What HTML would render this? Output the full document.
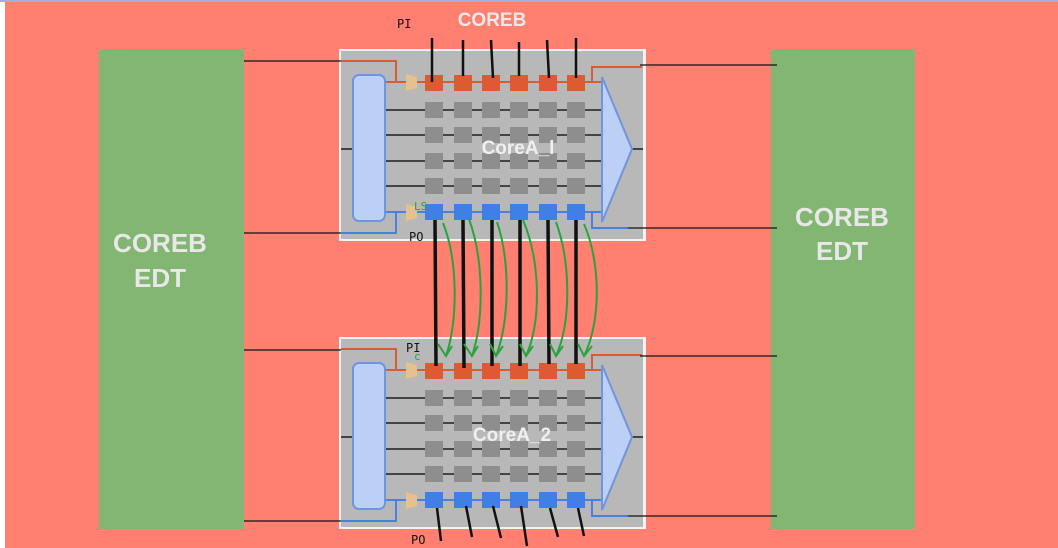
<!DOCTYPE html>
<html><head><meta charset="utf-8"><style>
html,body{margin:0;padding:0;background:#fff}
svg{display:block}
</style></head><body>
<svg width="1058" height="548" viewBox="0 0 1058 548" xmlns="http://www.w3.org/2000/svg" font-family="Liberation Sans, sans-serif">
<rect x="0" y="0" width="1058" height="548" fill="#fff"/>
<rect x="5" y="0" width="1053" height="548" fill="#ff7f70"/>
<rect x="0" y="0" width="1058" height="2" fill="#a9a9f0"/>
<rect x="99" y="49" width="145" height="480" fill="#84b673"/>
<rect x="771" y="49" width="144" height="480" fill="#84b673"/>
<text x="160" y="252" fill="#e8e8e8" font-size="26" font-weight="bold" text-anchor="middle">COREB</text>
<text x="160" y="287" fill="#e8e8e8" font-size="26" font-weight="bold" text-anchor="middle">EDT</text>
<text x="842" y="226" fill="#e8e8e8" font-size="26" font-weight="bold" text-anchor="middle">COREB</text>
<text x="842" y="260" fill="#e8e8e8" font-size="26" font-weight="bold" text-anchor="middle">EDT</text>
<text x="492" y="26" fill="#eaeaea" font-size="19" font-weight="bold" text-anchor="middle">COREB</text>
<defs>
<g id="core">
<rect x="339" y="49" width="307" height="192" fill="#f2f2f2"/>
<rect x="341" y="51" width="302" height="188" fill="#b8b8b8"/>
<line x1="341" y1="149" x2="353" y2="149" stroke="#444" stroke-width="2"/>
<line x1="632" y1="149" x2="643" y2="149" stroke="#444" stroke-width="2"/>
<g stroke="#444" stroke-width="2">
<line x1="385" y1="110" x2="602" y2="110"/><line x1="385" y1="135" x2="602" y2="135"/>
<line x1="385" y1="161" x2="602" y2="161"/><line x1="385" y1="186" x2="602" y2="186"/>
</g>
<g fill="#8e8e8e">
<rect x="425" y="102" width="18" height="16"/><rect x="454" y="102" width="18" height="16"/><rect x="482" y="102" width="18" height="16"/><rect x="510" y="102" width="18" height="16"/><rect x="539" y="102" width="18" height="16"/><rect x="567" y="102" width="18" height="16"/>
<rect x="425" y="127" width="18" height="16"/><rect x="454" y="127" width="18" height="16"/><rect x="482" y="127" width="18" height="16"/><rect x="510" y="127" width="18" height="16"/><rect x="539" y="127" width="18" height="16"/><rect x="567" y="127" width="18" height="16"/>
<rect x="425" y="153" width="18" height="16"/><rect x="454" y="153" width="18" height="16"/><rect x="482" y="153" width="18" height="16"/><rect x="510" y="153" width="18" height="16"/><rect x="539" y="153" width="18" height="16"/><rect x="567" y="153" width="18" height="16"/>
<rect x="425" y="178" width="18" height="16"/><rect x="454" y="178" width="18" height="16"/><rect x="482" y="178" width="18" height="16"/><rect x="510" y="178" width="18" height="16"/><rect x="539" y="178" width="18" height="16"/><rect x="567" y="178" width="18" height="16"/>
</g>
<polyline points="341,61 396,61 396,82 406,82" fill="none" stroke="#d95b35" stroke-width="2"/>
<line x1="385" y1="82" x2="602" y2="82" stroke="#d95b35" stroke-width="2"/>
<polyline points="592,82 592,67 642,67" fill="none" stroke="#d95b35" stroke-width="2"/>
<polyline points="341,233 396,233 396,212 406,212" fill="none" stroke="#4a7fe0" stroke-width="2"/>
<line x1="385" y1="212" x2="602" y2="212" stroke="#4a7fe0" stroke-width="2"/>
<polyline points="592,212 592,228 628,228" fill="none" stroke="#4a7fe0" stroke-width="2"/>
<g fill="#dd5a33">
<rect x="425" y="75" width="18" height="16"/><rect x="454" y="75" width="18" height="16"/><rect x="482" y="75" width="18" height="16"/><rect x="510" y="75" width="18" height="16"/><rect x="539" y="75" width="18" height="16"/><rect x="567" y="75" width="18" height="16"/>
</g>
<g fill="#3f7fe6">
<rect x="425" y="204" width="18" height="16"/><rect x="454" y="204" width="18" height="16"/><rect x="482" y="204" width="18" height="16"/><rect x="510" y="204" width="18" height="16"/><rect x="539" y="204" width="18" height="16"/><rect x="567" y="204" width="18" height="16"/>
</g>
<polygon points="406,74 417,77 417,88 406,91" fill="#e6c08f"/>
<polygon points="406,204 417,207 417,218 406,221" fill="#e6c08f"/>
<rect x="353" y="75" width="32" height="146" rx="6" fill="#bcd0f5" stroke="#6d95e0" stroke-width="2"/>
<polygon points="602,77 632,149 602,222" fill="#bcd0f5" stroke="#6d95e0" stroke-width="2"/>
</g>
</defs>
<use href="#core"/>
<use href="#core" transform="translate(0,288)"/>
<text x="518" y="154" fill="#f0f0f0" font-size="19" font-weight="bold" text-anchor="middle">CoreA_l</text>
<text x="512" y="441" fill="#f0f0f0" font-size="19" font-weight="bold" text-anchor="middle">CoreA_2</text>
<g stroke="#111" stroke-width="1.2">
<line x1="244" y1="61" x2="341" y2="61"/><line x1="244" y1="233" x2="341" y2="233"/>
<line x1="244" y1="350" x2="341" y2="350"/><line x1="244" y1="521" x2="341" y2="521"/>
<line x1="640" y1="65" x2="777" y2="65"/><line x1="628" y1="228" x2="777" y2="228"/>
<line x1="640" y1="356" x2="777" y2="356"/><line x1="628" y1="516" x2="777" y2="516"/>
</g>
<g stroke="#111" stroke-width="2.5" fill="none">
<line x1="432" y1="38" x2="432" y2="82"/><line x1="463" y1="40" x2="463" y2="76"/><line x1="491" y1="40" x2="493" y2="78"/><line x1="519" y1="42" x2="519" y2="76"/><line x1="547" y1="40" x2="549" y2="78"/><line x1="576" y1="38" x2="576" y2="78"/>
<line x1="437" y1="508" x2="441" y2="541"/><line x1="466" y1="506" x2="472" y2="537"/><line x1="493" y1="506" x2="501" y2="538"/><line x1="521" y1="506" x2="527" y2="546"/><line x1="550" y1="508" x2="558" y2="537"/><line x1="578" y1="508" x2="584" y2="536"/>
</g>
<g stroke="#111" stroke-width="3.5" fill="none">
<line x1="435" y1="220" x2="436" y2="366"/><line x1="463" y1="220" x2="464" y2="368"/><line x1="492" y1="220" x2="492" y2="366"/><line x1="520" y1="220" x2="520" y2="366"/><line x1="548" y1="220" x2="549" y2="364"/><line x1="576" y1="220" x2="576" y2="364"/>
</g>
<g stroke="#2aa33a" stroke-width="2" fill="none">
<path d="M443,223 C458,260 458,320 446,356"/><path d="M438,344 L446,356 L452,346"/>
<path d="M469,219 C484,260 484,320 472,356"/><path d="M464,344 L472,356 L478,346"/>
<path d="M497,222 C510,260 510,320 496,356"/><path d="M490,344 L496,356 L503,346"/>
<path d="M523,220 C540,260 542,320 526,356"/><path d="M520,344 L526,356 L533,346"/>
<path d="M556,222 C570,260 572,320 556,356"/><path d="M550,344 L556,356 L563,346"/>
<path d="M584,224 C600,260 602,320 584,356"/><path d="M578,344 L584,356 L592,346"/>
</g>
<g font-family="DejaVu Sans Mono, monospace" font-size="12" fill="#111">
<text x="397" y="28">PI</text><text x="409" y="241">PO</text>
<text x="406" y="352">PI</text><text x="411" y="544">PO</text>
</g>
<text x="414" y="210" fill="#2aa33a" font-size="11" font-family="DejaVu Sans Mono, monospace">LS</text>
<text x="414" y="360" fill="#2aa33a" font-size="11" font-family="DejaVu Sans Mono, monospace">c</text>
</svg>
</body></html>
